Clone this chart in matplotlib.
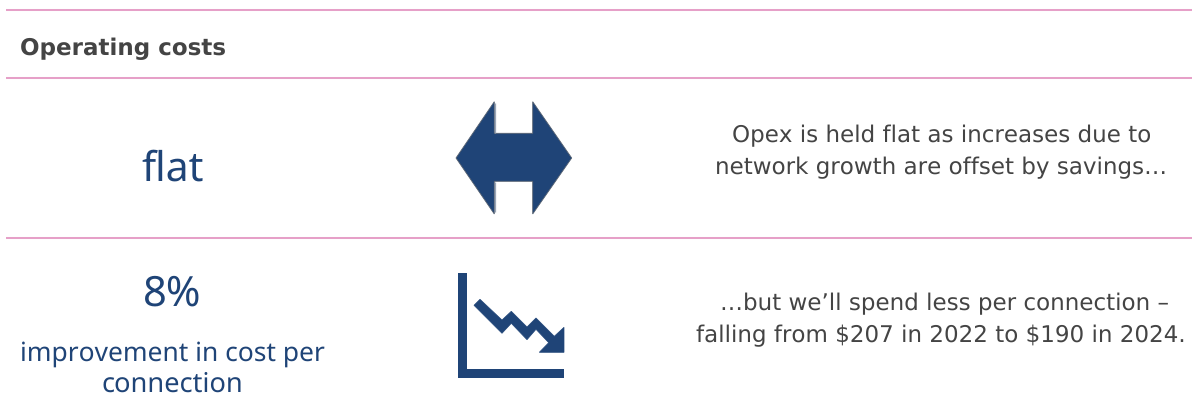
import matplotlib
matplotlib.use("Agg")
import matplotlib.pyplot as plt
from matplotlib.patches import Polygon

plt.rcParams["text.hinting"] = "no_hinting"
plt.rcParams["text.hinting_factor"] = 1

W, H = 1192, 405
NAVY = "#1F4477"
GREY = "#444444"
PINK = "#E6A0C8"
SHADE = "#9AA5B5"

title = "Operating costs"
rule_rows = [10, 78, 238]
kpi_labels = ["flat", "8%", "improvement in cost per", "connection"]
kpi_rows = [169.5, 295, 353.5, 385]
kpi_sizes = [29.5, 30, 19, 19.6]
kpi_cols = [172.5, 172.5, 172.5, 172.5]
notes = ["Opex is held flat as increases due to", "network growth are offset by savings…",
         "…but we’ll spend less per connection –", "falling from \\$207 in 2022 to \\$190 in 2024."]
note_rows = [136, 168, 304, 336]
note_cols = [941.5, 941, 944, 941]
note_sizes = [16.5, 16.4, 16.8, 16.9]

flat_icon = [(456, 158), (494.3, 101.7), (494.3, 133.3), (532.7, 133.3), (532.7, 101.7), (571.7, 158),
             (532.7, 214), (532.7, 181.3), (494.3, 181.3), (494.3, 214)]
notch_shades = [[(495, 103), (495, 133)], [(495, 182), (495, 212)]]
axis_icon = [(458.3, 272.7), (467.3, 272.7), (467.3, 369), (564, 369), (564, 378.3), (458.3, 378.3)]
trend_icon = [(480, 299.3), (502, 320), (511.3, 311.3), (527, 327), (536, 318), (554.3, 336.3), (564, 327.3),
              (564, 352.3), (539.3, 352.3), (548.7, 342.7), (536, 329.3), (527, 339.7), (511.3, 323.3),
              (502, 333.3), (474, 305.3)]

fig = plt.figure(figsize=(W / 100, H / 100), dpi=100)
ax = fig.add_axes([0, 0, 1, 1])
ax.set_xlim(0, W)
ax.set_ylim(H, 0)
ax.axis("off")

for y in rule_rows:
    ax.plot([6, W], [y, y], color=PINK, lw=1.45, solid_capstyle="butt")

ax.text(20, 49, title, fontsize=16.35, fontweight="bold", color=GREY, family="DejaVu Sans", va="center", ha="left")

for s, x, y, fs in zip(kpi_labels, kpi_cols, kpi_rows, kpi_sizes):
    ax.text(x, y, s, fontsize=fs, color=NAVY, family="Noto Sans", va="center", ha="center")

for s, x, y, fs in zip(notes, note_cols, note_rows, note_sizes):
    ax.text(x, y, s, fontsize=fs, color=GREY, family="DejaVu Sans", va="center", ha="center")

ax.add_patch(Polygon(flat_icon, closed=True, facecolor=NAVY, edgecolor="#55606f", lw=0.6))
for seg in notch_shades:
    ax.plot([p[0] for p in seg], [p[1] for p in seg], color=SHADE, lw=0.9, solid_capstyle="butt")
ax.add_patch(Polygon(axis_icon, closed=True, facecolor=NAVY, edgecolor="none"))
ax.add_patch(Polygon(trend_icon, closed=True, facecolor=NAVY, edgecolor=NAVY, lw=0.5))

fig.savefig("out.png", dpi=100, facecolor="white")
